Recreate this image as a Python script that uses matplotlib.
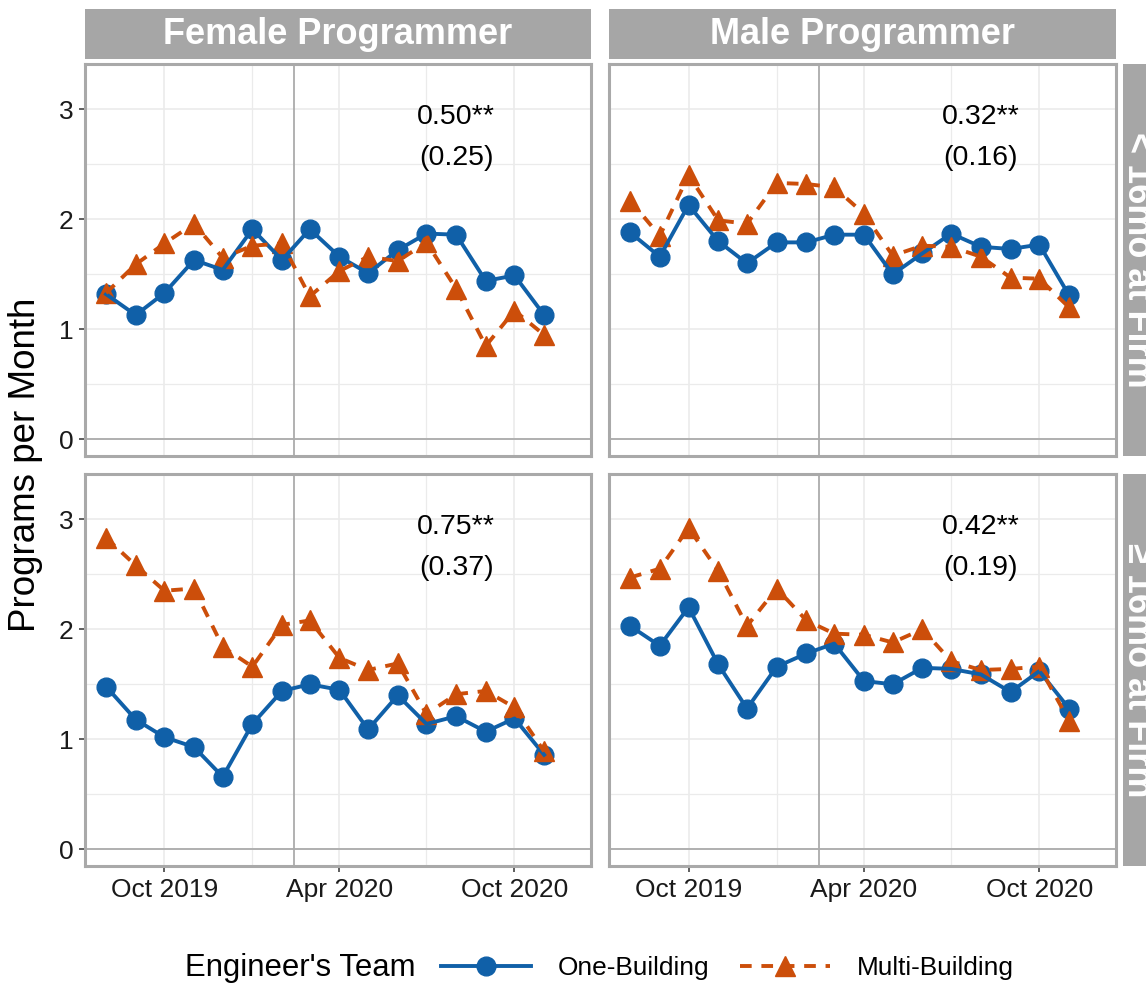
import matplotlib.pyplot as plt
import pandas as pd
from matplotlib.lines import Line2D

plt.rcParams['font.family'] = ['Liberation Sans', 'DejaVu Sans']

# monthly programs per engineer, Aug 2019 - Nov 2020
months = pd.date_range('2019-08-01', periods=16, freq='MS')

female_new_one = [1.32, 1.13, 1.33, 1.63, 1.54, 1.91, 1.63, 1.91,
                  1.66, 1.51, 1.72, 1.87, 1.86, 1.44, 1.49, 1.13]
female_new_multi = [1.33, 1.59, 1.78, 1.96, 1.65, 1.76, 1.78, 1.30,
                    1.53, 1.66, 1.62, 1.79, 1.37, 0.85, 1.17, 0.95]
male_new_one = [1.88, 1.66, 2.13, 1.80, 1.60, 1.79, 1.79, 1.86,
                1.86, 1.50, 1.69, 1.87, 1.75, 1.73, 1.77, 1.31]
male_new_multi = [2.17, 1.85, 2.40, 1.99, 1.96, 2.33, 2.32, 2.29,
                  2.05, 1.67, 1.76, 1.75, 1.66, 1.47, 1.46, 1.20]
female_old_one = [1.48, 1.18, 1.02, 0.93, 0.66, 1.14, 1.44, 1.50,
                  1.45, 1.09, 1.40, 1.14, 1.21, 1.07, 1.19, 0.86]
female_old_multi = [2.83, 2.58, 2.35, 2.37, 1.84, 1.66, 2.04, 2.08,
                    1.74, 1.63, 1.69, 1.23, 1.41, 1.44, 1.29, 0.89]
male_old_one = [2.03, 1.85, 2.20, 1.68, 1.28, 1.66, 1.78, 1.87,
                1.53, 1.50, 1.65, 1.64, 1.59, 1.43, 1.62, 1.28]
male_old_multi = [2.47, 2.55, 2.92, 2.53, 2.03, 2.37, 2.08, 1.96,
                  1.95, 1.88, 2.00, 1.71, 1.63, 1.64, 1.66, 1.17]

row_labels = ['< 16mo at Firm', '\u2265 16mo at Firm']
col_labels = ['Female Programmer', 'Male Programmer']
series = [[(female_new_one, female_new_multi), (male_new_one, male_new_multi)],
          [(female_old_one, female_old_multi), (male_old_one, male_old_multi)]]
effects = [['0.50**', '0.32**'], ['0.75**', '0.42**']]
std_errors = [['(0.25)', '(0.16)'], ['(0.37)', '(0.19)']]

team_labels = ['One-Building', 'Multi-Building']
tick_dates = pd.to_datetime(['2019-10-01', '2020-04-01', '2020-10-01'])
tick_labels = ['Oct 2019', 'Apr 2020', 'Oct 2020']
minor_dates = pd.to_datetime(['2020-01-01', '2020-07-01'])
cutoff_date = pd.Timestamp('2020-02-14')
label_date = pd.Timestamp('2020-08-01')

BLUE = '#1060A8'
ORANGE = '#CC4E0A'
STRIP = '#A6A6A6'
BORDER = '#A9A9A9'
GRID = '#EBEBEB'
DASH = (0, (3, 2.5))

W, H = 1146, 986
fig = plt.figure(figsize=(W / 100, H / 100), dpi=100)


def px_rect(x0, y0, x1, y1):
    return [x0 / W, 1 - y1 / H, (x1 - x0) / W, (y1 - y0) / H]


col_x = [(85, 591), (609, 1116)]
row_y = [(64, 456), (474, 866)]

for r in range(2):
    for c in range(2):
        x0, x1 = col_x[c]
        y0, y1 = row_y[r]
        ax = fig.add_axes(px_rect(x0, y0, x1, y1))
        one, multi = series[r][c]

        ax.set_xlim(pd.Timestamp('2019-07-10'), pd.Timestamp('2020-12-20'))
        ax.set_ylim(-0.15, 3.41)

        ax.set_yticks([0, 1, 2, 3])
        ax.set_yticks([0.5, 1.5, 2.5], minor=True)
        ax.set_xticks(tick_dates)
        ax.set_xticks(minor_dates, minor=True)
        ax.grid(True, which='major', color=GRID, lw=1.2, zorder=0)
        ax.grid(True, which='minor', color=GRID, lw=0.9, zorder=0)
        ax.set_axisbelow(True)

        ax.axhline(0, color='#ABABAB', lw=1.3, zorder=1)
        ax.axvline(cutoff_date, color='#ABABAB', lw=1.3, zorder=1)

        # markers first, then the connecting lines
        ax.plot(months, one, ls='none', marker='o', ms=13.5, color=BLUE, zorder=3)
        ax.plot(months, multi, ls='none', marker='^', ms=14, color=ORANGE, zorder=3)
        ax.plot(months, one, color=BLUE, lw=2.8, zorder=4)
        ax.plot(months, multi, color=ORANGE, lw=2.8, ls=DASH, zorder=4)

        ax.text(label_date, 2.93, effects[r][c], ha='center', va='center',
                fontsize=20.5, color='black')
        ax.text(label_date, 2.56, std_errors[r][c], ha='center', va='center',
                fontsize=20.5, color='black')

        for s in ax.spines.values():
            s.set_color(BORDER)
            s.set_linewidth(2.2)

        ax.tick_params(which='minor', length=0)
        ax.tick_params(which='major', length=4.5, width=1.1, color='#333333',
                       labelsize=19, labelcolor='#1A1A1A', pad=4)
        if c == 0:
            ax.set_yticklabels(['0', '1', '2', '3'])
        else:
            ax.tick_params(axis='y', length=0, labelleft=False)
        if r == 1:
            ax.set_xticklabels(tick_labels)
        else:
            ax.tick_params(axis='x', length=0, labelbottom=False)

        # facet strips
        if r == 0:
            sx = fig.add_axes(px_rect(x0, 9, x1, 59))
            sx.set_facecolor(STRIP)
            sx.set_xticks([])
            sx.set_yticks([])
            for s in sx.spines.values():
                s.set_visible(False)
            sx.text(0.5, 0.5, col_labels[c], ha='center', va='center',
                    color='white', fontsize=26, fontweight='bold',
                    transform=sx.transAxes)
        if c == 1:
            sy = fig.add_axes(px_rect(1123, y0, 1173, y1))
            sy.set_facecolor(STRIP)
            sy.set_xticks([])
            sy.set_yticks([])
            for s in sy.spines.values():
                s.set_visible(False)
            # the strip runs past the right edge of the figure
            sy.text(1137 / W, 1 - (y0 + y1) / 2 / H, row_labels[r],
                    ha='center', va='center', color='white', fontsize=26,
                    fontweight='bold', rotation=-90, transform=fig.transFigure)

fig.text(26 / W, 1 - 465 / H, 'Programs per Month', rotation=90,
         ha='center', va='center', fontsize=26.5)

# legend along the bottom, title to the left of the keys
fig.text(185 / W, 1 - 968 / H, "Engineer's Team", ha='left', va='center',
         fontsize=22.4)
handles = [
    Line2D([], [], color=BLUE, lw=2.8, marker='o', ms=13.5),
    Line2D([], [], color=ORANGE, lw=2.8, ls=DASH, marker='^', ms=14),
]
fig.legend(handles, team_labels, loc='center left',
           bbox_to_anchor=(441 / W, 1 - 968 / H), ncol=2, frameon=False,
           fontsize=18.9, handlelength=3.43, handletextpad=1.03,
           columnspacing=1.14, borderpad=0, borderaxespad=0)

fig.savefig('out.png', dpi=100)
